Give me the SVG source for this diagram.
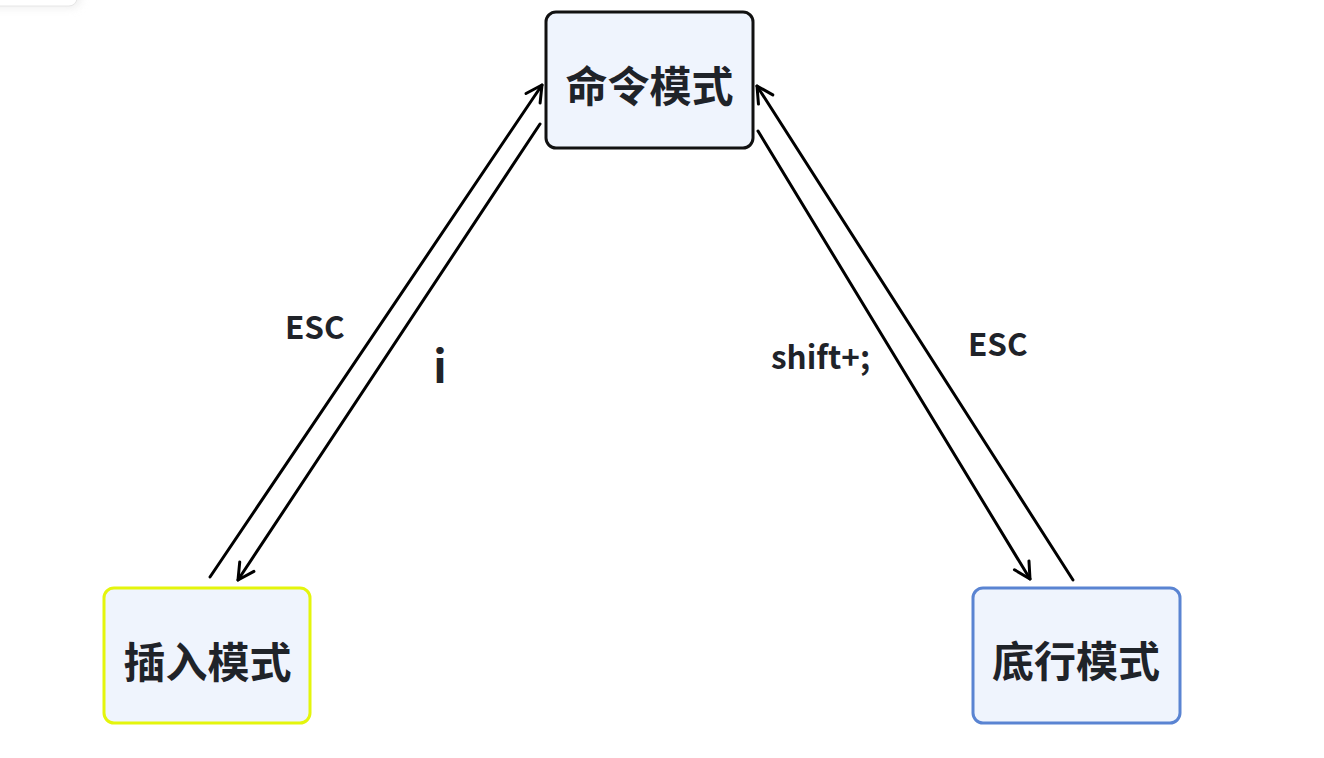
<svg xmlns="http://www.w3.org/2000/svg" width="1324" height="758" viewBox="0 0 1324 758">
  <defs>
    <filter id="sh" x="-50%" y="-200%" width="200%" height="500%">
      <feGaussianBlur stdDeviation="5"/>
    </filter>
    <marker id="arr" viewBox="-18 -10 22 20" markerWidth="22" markerHeight="20" refX="0" refY="0" orient="auto" markerUnits="userSpaceOnUse" overflow="visible">
      <path d="M-16,-8.5 L0,0 L-16,8.5" fill="none" stroke="#000" stroke-width="3" stroke-linecap="round" stroke-linejoin="round"/>
    </marker>
  </defs>
  <style>
    .node rect { fill: #eff4fd; stroke-width: 3; }
    .nt { font-family: "Noto Sans CJK SC", "Noto Sans", sans-serif; font-weight: bold; font-size: 42px; fill: #1f2329; text-anchor: middle; dominant-baseline: central; }
    .lbl { font-family: "Noto Sans CJK SC", "Noto Sans", sans-serif; font-weight: bold; fill: #1f2329; }
    .conn line { stroke: #000; stroke-width: 3; fill: none; stroke-linecap: round; }
  </style>
  <rect width="1324" height="758" fill="#ffffff"/>
  <g id="ui-remnant">
    <rect x="-20" y="-20" width="100" height="27" rx="8" fill="#dddddd" filter="url(#sh)" opacity="0.6"/>
    <rect x="-20" y="-20" width="97" height="26" rx="8" fill="#ffffff" stroke="#e6e6e6" stroke-width="1"/>
  </g>
  <g id="node-command" class="node">
    <rect x="546" y="12" width="207" height="136" rx="10" stroke="#111111"/>
    <text class="nt" x="649.5" y="83">命令模式</text>
  </g>
  <g id="node-insert" class="node">
    <rect x="104" y="588" width="206" height="135" rx="10" stroke="#e4f50c"/>
    <text class="nt" x="207.5" y="659">插入模式</text>
  </g>
  <g id="node-bottom" class="node">
    <rect x="973" y="588" width="207" height="135" rx="10" stroke="#5a84d2"/>
    <text class="nt" x="1076" y="658">底行模式</text>
  </g>
  <g id="connectors" class="conn">
    <line x1="210" y1="577" x2="542" y2="85" marker-end="url(#arr)"/>
    <line x1="540" y1="124" x2="238" y2="580" marker-end="url(#arr)"/>
    <line x1="758" y1="131" x2="1030" y2="579" marker-end="url(#arr)"/>
    <line x1="1073" y1="580" x2="757" y2="86" marker-end="url(#arr)"/>
  </g>
  <g id="labels">
    <text class="lbl" x="285" y="339" font-size="31.5">ESC</text>
    <text class="lbl" x="440" y="383" font-size="44" text-anchor="middle">i</text>
    <text class="lbl" x="771" y="369" font-size="31.5">shift+;</text>
    <text class="lbl" x="968" y="356" font-size="31.5">ESC</text>
  </g>
</svg>
